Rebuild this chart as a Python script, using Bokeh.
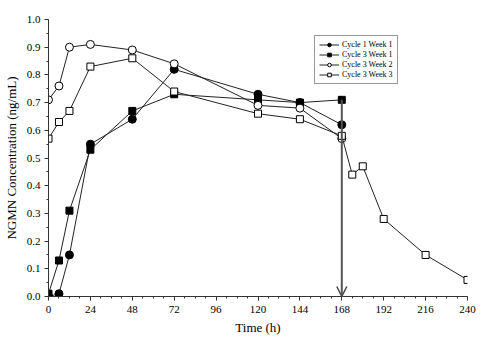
from bokeh.plotting import figure
from bokeh.models import FixedTicker, NumeralTickFormatter, Arrow, OpenHead, Legend, LegendItem, Range1d
from bokeh.embed import file_html
from bokeh.resources import INLINE

# Data
t_c1w1 = [0, 6, 12, 24, 48, 72, 120, 144, 168]
c1w1 = [0.0, 0.01, 0.15, 0.55, 0.64, 0.82, 0.73, 0.70, 0.62]
t_c3w1 = [0, 6, 12, 24, 48, 72, 120, 144, 168]
c3w1 = [0.01, 0.13, 0.31, 0.53, 0.67, 0.73, 0.71, 0.70, 0.71]
t_c3w2 = [0, 6, 12, 24, 48, 72, 120, 144, 168]
c3w2 = [0.71, 0.76, 0.90, 0.91, 0.89, 0.84, 0.69, 0.68, 0.57]
t_c3w3 = [0, 6, 12, 24, 48, 72, 120, 144, 168, 174, 180, 192, 216, 240]
c3w3 = [0.57, 0.63, 0.67, 0.83, 0.86, 0.74, 0.66, 0.64, 0.58, 0.44, 0.47, 0.28, 0.15, 0.06]
arrow_time = [168]
arrow_top = [0.71]
x_ticks = [0, 24, 48, 72, 96, 120, 144, 168, 192, 216, 240]
y_ticks = [0.0, 0.1, 0.2, 0.3, 0.4, 0.5, 0.6, 0.7, 0.8, 0.9, 1.0]

FONT = "Liberation Serif"

p = figure(frame_width=419, frame_height=277,
           min_border_left=47, min_border_right=15, min_border_top=19, min_border_bottom=43,
           x_range=Range1d(0, 240), y_range=Range1d(0, 1.0),
           output_backend="svg", toolbar_location=None)
p.outline_line_color = None
p.xgrid.visible = False
p.ygrid.visible = False

p.xaxis.ticker = FixedTicker(ticks=x_ticks, minor_ticks=[i * 6 for i in range(41)])
p.yaxis.ticker = FixedTicker(ticks=y_ticks, minor_ticks=[i * 0.05 for i in range(21)])
p.yaxis.formatter = NumeralTickFormatter(format="0.0")
for ax in (p.xaxis[0], p.yaxis[0]):
    ax.major_tick_in = 0
    ax.major_tick_out = 4
    ax.minor_tick_in = 0
    ax.minor_tick_out = 2
    ax.axis_line_color = "#333333"
    ax.major_tick_line_color = "#333333"
    ax.minor_tick_line_color = "#333333"
    ax.major_label_text_font = FONT
    ax.major_label_text_font_size = "11px"
    ax.major_label_text_color = "black"
    ax.axis_label_text_font = FONT
    ax.axis_label_text_font_size = "13px"
    ax.axis_label_text_font_style = "normal"
    ax.axis_label_text_color = "black"
p.xaxis.axis_label = "Time (h)"
p.yaxis.axis_label = "NGMN Concentration (ng/mL)"
p.xaxis.axis_label_standoff = 4
p.yaxis.axis_label_standoff = 5
p.xaxis.major_label_standoff = 5
p.yaxis.major_label_standoff = 4

# Arrow
p.add_layout(Arrow(end=OpenHead(size=10, line_color="#444444", line_width=1.5),
                   x_start=arrow_time[0], y_start=arrow_top[0],
                   x_end=arrow_time[0], y_end=0,
                   line_color="#555555", line_width=2))

lc = "#222222"
r1l = p.line(t_c1w1, c1w1, line_color=lc, line_width=1)
r1m = p.scatter(t_c1w1, c1w1, marker="circle", size=8, fill_color="black", line_color="black")
r2l = p.line(t_c3w1, c3w1, line_color=lc, line_width=1)
r2m = p.scatter(t_c3w1, c3w1, marker="square", size=7, fill_color="black", line_color="black")
r3l = p.line(t_c3w2, c3w2, line_color=lc, line_width=1)
r3m = p.scatter(t_c3w2, c3w2, marker="circle", size=8, fill_color="white", line_color="black")
r4l = p.line(t_c3w3, c3w3, line_color=lc, line_width=1)
r4m = p.scatter(t_c3w3, c3w3, marker="square", size=7, fill_color="white", line_color="black")

legend = Legend(items=[
    LegendItem(label="Cycle 1 Week 1", renderers=[r1l, r1m]),
    LegendItem(label="Cycle 3 Week 1", renderers=[r2l, r2m]),
    LegendItem(label="Cycle 3 Week 2", renderers=[r3l, r3m]),
    LegendItem(label="Cycle 3 Week 3", renderers=[r4l, r4m]),
], location=(266, 212))
legend.label_text_font = FONT
legend.label_text_font_size = "8px"
legend.label_text_color = "black"
legend.label_height = 9
legend.glyph_height = 9
legend.glyph_width = 20
legend.spacing = 1
legend.padding = 4
legend.margin = 0
legend.label_standoff = 3
legend.border_line_color = "#333333"
legend.border_line_width = 1
legend.background_fill_alpha = 1
p.add_layout(legend)

open("out.html", "w").write(file_html(p, INLINE))
